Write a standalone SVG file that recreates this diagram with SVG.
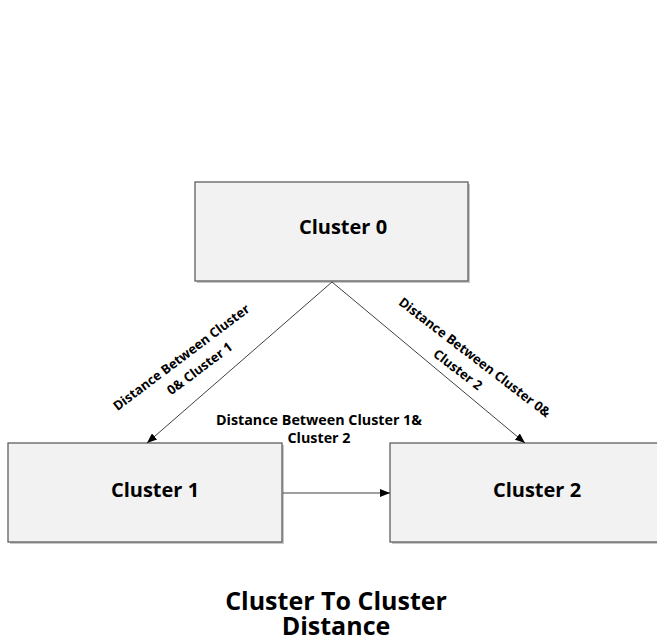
<svg xmlns="http://www.w3.org/2000/svg" width="657" height="641" viewBox="0 0 657 641">
<style>
.box{fill:#f2f2f2;stroke:#5f5f5f;stroke-width:1.3}
.shadow{fill:#c8c8c8}
.node{font-family:"Open Sans","Liberation Sans",sans-serif;font-weight:bold;font-size:20px;fill:#000}
.lbl{font-family:"Open Sans","Liberation Sans",sans-serif;font-weight:bold;font-size:13px;fill:#000}
.mid{font-size:14.3px}
.title{font-family:"Open Sans","Liberation Sans",sans-serif;font-weight:bold;font-size:25px;fill:#000}
.edge{stroke:#404040;stroke-width:1;fill:none}
</style>
<defs>
<marker id="arr" markerWidth="10" markerHeight="8" refX="10" refY="4" orient="auto" markerUnits="userSpaceOnUse">
<path d="M0,0 L10,4 L0,8 Z" fill="#000"/>
</marker>
</defs>
<rect width="657" height="641" fill="#fff"/>
<g id="cluster0">
<rect class="shadow" x="197" y="184" width="273" height="99"/>
<rect class="box" x="195" y="182" width="273" height="99"/>
<text class="node" x="343" y="234" text-anchor="middle">Cluster 0</text>
</g>
<g id="cluster1">
<rect class="shadow" x="10" y="445" width="274" height="99"/>
<rect class="box" x="8" y="443" width="274" height="99"/>
<text class="node" x="155" y="497" text-anchor="middle">Cluster 1</text>
</g>
<g id="cluster2">
<rect class="shadow" x="392" y="445" width="274" height="99"/>
<rect class="box" x="390" y="443" width="274" height="99"/>
<text class="node" x="537" y="497" text-anchor="middle">Cluster 2</text>
</g>
<g id="connectors">
<line class="edge" x1="332" y1="282" x2="147" y2="443" marker-end="url(#arr)"/>
<line class="edge" x1="332" y1="282" x2="525" y2="443" marker-end="url(#arr)"/>
<line class="edge" x1="283" y1="493" x2="390" y2="493" marker-end="url(#arr)"/>
</g>
<g id="labels">
<g transform="translate(184,361) rotate(-37)">
<text class="lbl" text-anchor="middle"><tspan x="0" y="0">Distance Between Cluster</tspan><tspan x="8" y="20">0&amp; Cluster 1</tspan></text>
</g>
<g transform="translate(472,361) rotate(37.5)">
<text class="lbl" text-anchor="middle"><tspan x="0" y="0">Distance Between Cluster 0&amp;</tspan><tspan x="-6" y="20">Cluster 2</tspan></text>
</g>
<text class="lbl mid" text-anchor="middle"><tspan x="319" y="425">Distance Between Cluster 1&amp;</tspan><tspan x="319" y="443">Cluster 2</tspan></text>
</g>
<g id="title">
<text class="title" text-anchor="middle"><tspan x="336" y="610">Cluster To Cluster</tspan><tspan x="336" y="635">Distance</tspan></text>
</g>
</svg>
